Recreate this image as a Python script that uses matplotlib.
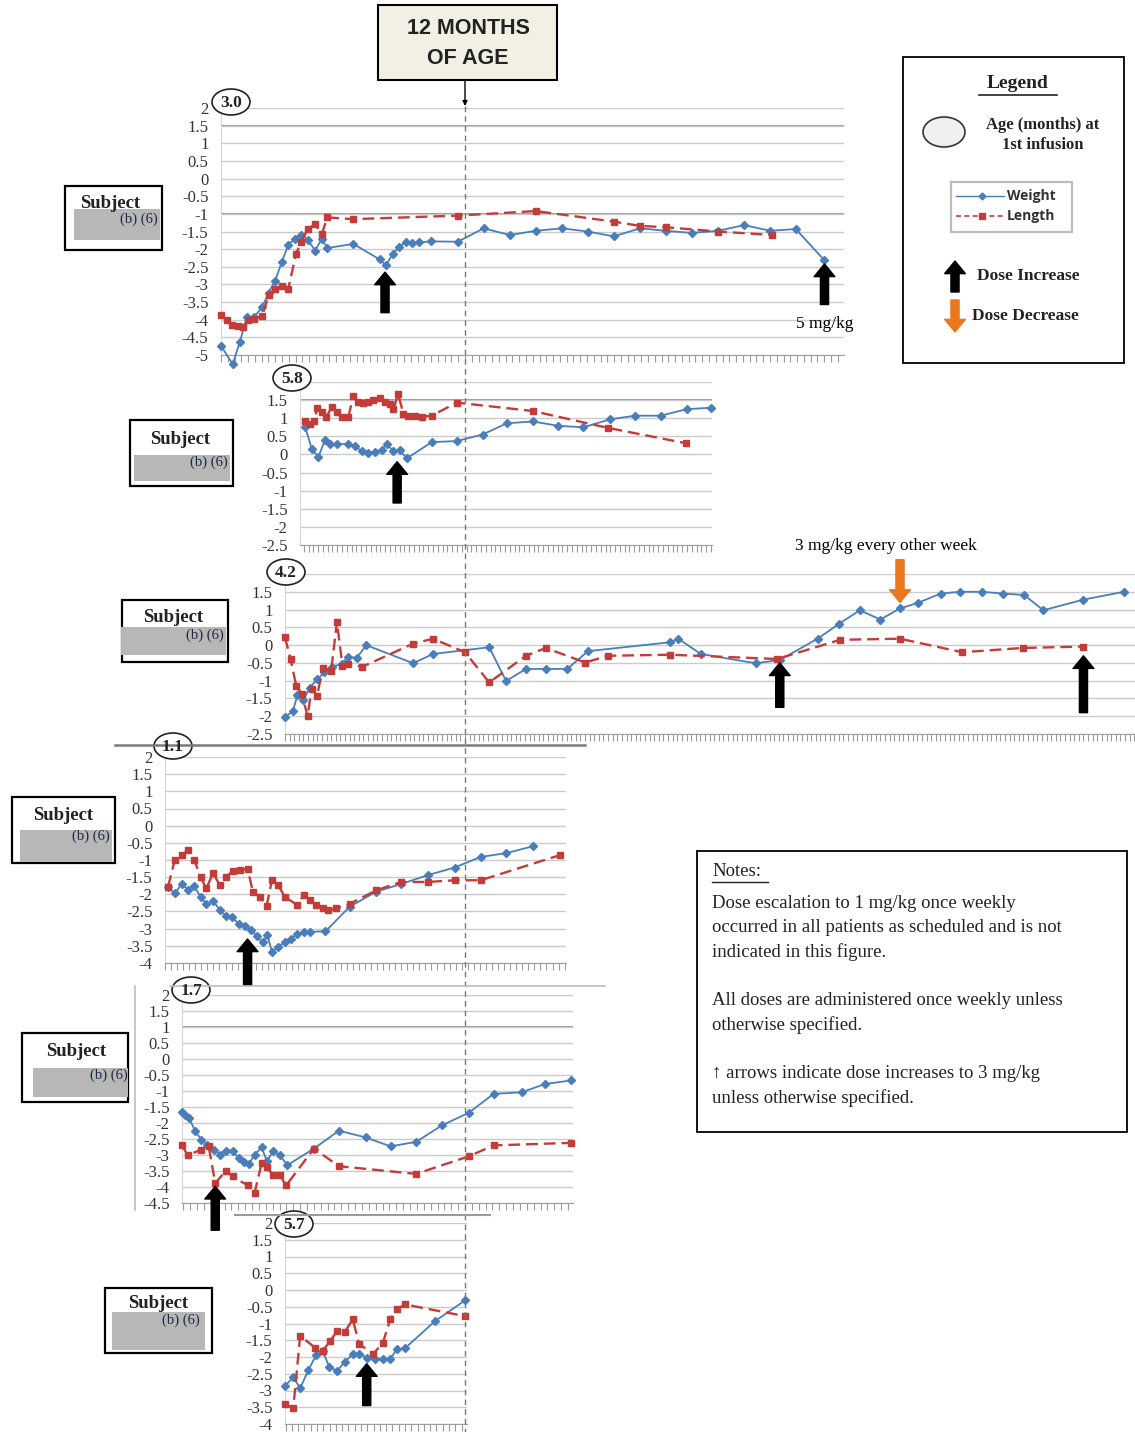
import matplotlib
matplotlib.use('Agg')
import matplotlib.pyplot as plt
from matplotlib.patches import Rectangle, Ellipse
from matplotlib.ticker import MultipleLocator, NullLocator, NullFormatter, FuncFormatter
import numpy as np

# Z-scores. x = age in months, y = z-score.
# Subject first infused at 3.0 months.
s30_weight_age = [3.0, 3.43, 3.69, 3.96, 4.23, 4.52, 4.76, 5.0, 5.24, 5.48, 5.72, 5.96, 6.2, 6.47, 6.72, 6.92, 7.88, 8.85, 9.09, 9.33,
                  9.57, 9.81, 10.05, 10.29, 10.73, 11.73, 12.69, 13.65, 14.61, 15.57, 16.53, 17.49, 18.45, 19.41, 20.37, 21.33, 22.3, 23.26, 24.2, 25.26]
s30_weight_z = [-4.74, -5.26, -4.64, -3.92, -3.92, -3.64, -3.23, -2.89, -2.37, -1.88, -1.71, -1.59, -1.73, -2.04, -1.71, -1.97, -1.85, -2.29, -2.46, -2.13,
                -1.95, -1.79, -1.82, -1.81, -1.78, -1.79, -1.41, -1.6, -1.48, -1.41, -1.5, -1.64, -1.41, -1.48, -1.54, -1.48, -1.32, -1.48, -1.43, -2.32]
s30_length_age = [3.0, 3.21, 3.4, 3.61, 3.8, 4.01, 4.23, 4.52, 4.76, 5.0, 5.24, 5.48, 5.77, 5.96, 6.2, 6.47, 6.72, 6.92, 7.88, 11.73,
                  14.61, 17.49, 18.45, 19.41, 21.33, 23.34]
s30_length_z = [-3.87, -4.01, -4.14, -4.17, -4.2, -4.01, -3.97, -3.89, -3.31, -3.12, -3.05, -3.12, -2.13, -1.79, -1.43, -1.29, -1.57, -1.1, -1.15, -1.05,
                -0.92, -1.22, -1.34, -1.38, -1.5, -1.6]

# Subject first infused at 5.8 months.
s58_weight_age = [5.99, 6.24, 6.49, 6.74, 6.93, 7.18, 7.62, 7.87, 8.12, 8.37, 8.62, 8.87, 9.06, 9.31, 9.56, 9.81, 10.75, 11.69, 12.66, 13.57,
                  14.54, 15.51, 16.45, 17.45, 18.39, 19.35, 20.33, 21.24]
s58_weight_z = [0.77, 0.16, -0.07, 0.4, 0.29, 0.29, 0.29, 0.22, 0.09, 0.04, 0.07, 0.13, 0.28, 0.09, 0.11, -0.11, 0.34, 0.37, 0.55, 0.86,
                0.91, 0.79, 0.75, 0.97, 1.07, 1.07, 1.25, 1.29]
s58_length_age = [5.99, 6.18, 6.33, 6.45, 6.61, 6.78, 6.99, 7.18, 7.37, 7.62, 7.8, 7.99, 8.18, 8.37, 8.56, 8.81, 9.0, 9.18, 9.31, 9.49,
                  9.68, 9.87, 10.12, 10.37, 10.75, 11.69, 14.54, 17.39, 20.3]
s58_length_z = [0.91, 0.84, 0.91, 1.29, 1.16, 1.02, 1.31, 1.16, 1.02, 1.04, 1.61, 1.46, 1.43, 1.46, 1.49, 1.56, 1.46, 1.4, 1.25, 1.67,
                1.13, 1.07, 1.07, 1.04, 1.07, 1.43, 1.2, 0.73, 0.31]

# Subject first infused at 4.2 months.
s42_weight_age = [4.2, 4.54, 4.74, 4.98, 5.28, 5.59, 5.91, 6.25, 6.65, 6.94, 7.31, 7.72, 9.75, 10.61, 13.05, 13.78, 14.64, 15.5, 16.43, 17.33,
                  20.88, 21.24, 22.22, 24.59, 25.64, 27.28, 28.21, 29.11, 30.0, 30.85, 31.63, 32.61, 33.47, 34.4, 35.3, 36.23, 37.06, 38.8, 40.56]
s42_weight_z = [-2.02, -1.86, -1.4, -1.55, -1.2, -0.96, -0.77, -0.61, -0.53, -0.33, -0.36, 0.0, -0.51, -0.25, -0.06, -1.01, -0.67, -0.67, -0.67, -0.17,
                0.08, 0.18, -0.25, -0.51, -0.42, 0.18, 0.6, 0.98, 0.72, 1.03, 1.19, 1.45, 1.5, 1.5, 1.45, 1.41, 0.98, 1.28, 1.5]
s42_length_age = [4.2, 4.44, 4.69, 4.93, 5.18, 5.35, 5.59, 5.84, 6.2, 6.45, 6.69, 6.94, 7.55, 9.75, 10.61, 12.0, 13.05, 14.64, 15.5, 17.21,
                  18.19, 20.88, 25.52, 28.26, 30.85, 33.54, 36.16, 38.8]
s42_length_z = [0.22, -0.39, -1.15, -1.38, -2.0, -1.24, -1.43, -0.63, -0.72, 0.65, -0.58, -0.53, -0.61, 0.04, 0.18, -0.2, -1.05, -0.3, -0.08, -0.49,
                -0.3, -0.27, -0.39, 0.15, 0.18, -0.2, -0.08, -0.04]

# Subject first infused at 1.1 months.
s11_weight_age = [1.21, 1.46, 1.7, 1.93, 2.16, 2.39, 2.6, 2.85, 3.09, 3.32, 3.54, 3.78, 4.02, 4.24, 4.43, 4.65, 4.82, 4.99, 5.21, 5.45,
                  5.68, 5.9, 6.14, 6.38, 6.93, 7.81, 8.78, 9.68, 10.65, 11.62, 12.57, 13.5, 14.47]
s11_weight_z = [-1.8, -1.97, -1.7, -1.86, -1.76, -2.07, -2.28, -2.19, -2.46, -2.63, -2.67, -2.86, -2.92, -3.03, -3.21, -3.4, -3.18, -3.69, -3.52, -3.4,
                -3.3, -3.15, -3.11, -3.09, -3.08, -2.36, -1.92, -1.7, -1.44, -1.22, -0.91, -0.8, -0.6]
s11_length_age = [1.21, 1.46, 1.7, 1.93, 2.16, 2.39, 2.6, 2.85, 3.09, 3.32, 3.57, 3.82, 4.1, 4.29, 4.54, 4.79, 4.99, 5.21, 5.45, 5.9,
                  6.14, 6.38, 6.6, 6.83, 7.04, 7.32, 7.81, 8.78, 9.68, 10.65, 11.62, 12.57, 15.44]
s11_length_z = [-1.78, -0.99, -0.86, -0.72, -0.99, -1.49, -1.83, -1.38, -1.73, -1.49, -1.32, -1.3, -1.25, -1.92, -2.07, -2.34, -1.57, -1.73, -2.07, -2.31,
                -2.02, -2.17, -2.31, -2.41, -2.47, -2.41, -2.28, -1.88, -1.64, -1.64, -1.59, -1.59, -0.86]

# Subject first infused at 1.7 months.
s17_weight_age = [1.7, 1.81, 1.95, 2.19, 2.4, 2.6, 2.88, 3.09, 3.3, 3.54, 3.76, 3.95, 4.14, 4.34, 4.6, 4.79, 5.01, 5.25, 5.53, 6.5,
                  7.41, 8.38, 9.29, 10.22, 11.17, 12.14, 13.04, 14.06, 14.92, 15.87]
s17_weight_z = [-1.65, -1.76, -1.84, -2.26, -2.52, -2.68, -2.83, -2.99, -2.86, -2.86, -3.09, -3.22, -3.28, -2.99, -2.76, -3.2, -2.89, -2.99, -3.32, -2.8,
                -2.24, -2.45, -2.73, -2.59, -2.07, -1.68, -1.09, -1.04, -0.78, -0.67]
s17_length_age = [1.7, 1.91, 2.4, 2.67, 2.91, 3.3, 3.54, 4.09, 4.34, 4.6, 4.79, 5.01, 5.25, 5.49, 6.5, 7.41, 10.22, 12.14, 13.04, 15.87]
s17_length_z = [-2.7, -3.01, -2.83, -2.73, -3.88, -3.49, -3.67, -3.95, -4.19, -3.25, -3.39, -3.62, -3.62, -3.95, -2.8, -3.35, -3.59, -3.04, -2.7, -2.62]

# Subject first infused at 5.7 months.
s57_weight_age = [5.7, 5.99, 6.23, 6.52, 6.79, 7.02, 7.25, 7.53, 7.8, 8.07, 8.3, 8.56, 8.85, 9.12, 9.38, 9.61, 9.9, 10.95, 12.0]
s57_weight_z = [-2.86, -2.61, -2.93, -2.39, -1.94, -1.82, -2.3, -2.41, -2.14, -1.92, -1.9, -2.02, -2.07, -2.07, -2.07, -1.77, -1.74, -0.93, -0.31]
s57_length_age = [5.7, 5.99, 6.23, 6.75, 7.02, 7.28, 7.53, 7.8, 8.07, 8.3, 8.79, 9.12, 9.38, 9.61, 9.9, 12.0]
s57_length_z = [-3.41, -3.53, -1.37, -1.72, -1.82, -1.52, -1.22, -1.24, -0.88, -1.62, -1.9, -1.59, -0.88, -0.58, -0.43, -0.78]

# Dose changes: (age in months, arrow tail z, arrow tip z).
s30_dose_up = [(9.05, -3.8, -2.65), (25.26, -3.57, -2.42)]
s58_dose_up = [(9.45, -1.34, -0.2)]
s42_dose_up = [(25.64, -1.75, -0.5), (38.8, -1.9, -0.3)]
s42_dose_down = [(30.85, 2.4, 1.2)]
s11_dose_up = [(4.1, -4.65, -3.3)]
s17_dose_up = [(2.91, -5.35, -3.98)]
s57_dose_up = [(8.56, -3.45, -2.2)]

first_infusion_age = ['3.0', '5.8', '4.2', '1.1', '1.7', '5.7']

notes_lines = ['Dose escalation to 1 mg/kg once weekly',
               'occurred in all patients as scheduled and is not',
               'indicated in this figure.',
               '',
               'All doses are administered once weekly unless',
               'otherwise specified.',
               '',
               '\u2191 arrows indicate dose increases to 3 mg/kg',
               'unless otherwise specified.']

# Colours and page layout (pixels of the 1135 x 1432 page).
BLUE = '#4a7ebb'
RED = '#c43c39'
ORANGE = '#e8771e'
W, H = 1135, 1432
MONTH12_PX = 465

plt.rcParams['font.family'] = ['Liberation Serif', 'DejaVu Serif']
plt.rcParams['axes.unicode_minus'] = False

fig = plt.figure(figsize=(W / 100, H / 100), dpi=100)
fig.patch.set_facecolor('white')


def px_rect(left, top, right, bottom):
    # Convert a pixel box on the page to a figure fraction rect.
    return [left / W, 1 - bottom / H, (right - left) / W, (bottom - top) / H]


def dose_arrow(ax, x, tail, tip, colour):
    ax.annotate('', xy=(x, tip), xytext=(x, tail), annotation_clip=False,
                arrowprops=dict(arrowstyle='simple,head_length=0.7,head_width=1.15,tail_width=0.45',
                                fc=colour, ec=colour, mutation_scale=13, shrinkA=0, shrinkB=0))


def draw_panel(box, age0, ymin, ymax, wt_age, wt_z, ln_age, ln_z, tick_step, dark_grid=(), hide_top=False):
    left, top, right, bottom = box
    ax = fig.add_axes(px_rect(left, top, right, bottom))
    scale = (MONTH12_PX - left) / (12.0 - age0) # Pixels per month, so 12 months lands on the shared line.
    ax.set_xlim(age0, age0 + (right - left) / scale)
    ax.set_ylim(ymin, ymax)
    ax.set_yticks(np.arange(ymin, ymax + 0.01, 0.5))
    # The top label sits under the age oval on some panels.
    ax.yaxis.set_major_formatter(FuncFormatter(lambda v, p: '' if (hide_top and v >= ymax) else '%g' % v))
    ax.tick_params(axis='y', length=0, pad=9, labelsize=12, labelcolor='#333333')
    ax.grid(axis='y', color='#cbcbcb', lw=1.0, zorder=0)
    for g in dark_grid:
        ax.axhline(g, color='#8d8d8d', lw=1.3, zorder=1)
    ax.xaxis.set_major_locator(NullLocator())
    ax.xaxis.set_minor_locator(MultipleLocator(tick_step))
    ax.xaxis.set_minor_formatter(NullFormatter())
    ax.tick_params(axis='x', which='minor', length=5, width=0.8, color='#9a9a9a', direction='out')
    for s in ['top', 'right']:
        ax.spines[s].set_visible(False)
    ax.spines['left'].set_color('#d6d6d6')
    ax.spines['bottom'].set_color('#a0a0a0')
    ax.plot(wt_age, wt_z, color=BLUE, lw=1.3, marker='D', ms=4.2, clip_on=False, zorder=3)
    ax.plot(ln_age, ln_z, color=RED, lw=1.7, ls=(0, (5, 2.5)), marker='s', ms=4.3, clip_on=False, zorder=3)
    return ax


ax1 = draw_panel((221, 108, 844, 355), 3.0, -5, 2, s30_weight_age, s30_weight_z, s30_length_age, s30_length_z, 0.25, dark_grid=(1.5, -1))
ax2 = draw_panel((300, 382, 712, 545), 5.8, -2.5, 2, s58_weight_age, s58_weight_z, s58_length_age, s58_length_z, 0.18, dark_grid=(1.5,), hide_top=True)
ax3 = draw_panel((285, 574, 1135, 734), 4.2, -2.5, 2, s42_weight_age, s42_weight_z, s42_length_age, s42_length_z, 0.2, hide_top=True)
ax4 = draw_panel((165, 757, 566, 963), 1.1, -4, 2, s11_weight_age, s11_weight_z, s11_length_age, s11_length_z, 0.22)
ax5 = draw_panel((182, 995, 573, 1203), 1.7, -4.5, 2, s17_weight_age, s17_weight_z, s17_length_age, s17_length_z, 0.25, dark_grid=(1,))
ax6 = draw_panel((285, 1223, 467, 1424), 5.7, -4, 2, s57_weight_age, s57_weight_z, s57_length_age, s57_length_z, 0.22)

for ax, ups in [(ax1, s30_dose_up), (ax2, s58_dose_up), (ax3, s42_dose_up), (ax4, s11_dose_up), (ax5, s17_dose_up), (ax6, s57_dose_up)]:
    for x, tail, tip in ups:
        dose_arrow(ax, x, tail, tip, 'black')
for x, tail, tip in s42_dose_down:
    dose_arrow(ax3, x, tail, tip, ORANGE)

ax1.text(s30_dose_up[1][0], -4.12, '5 mg/kg', ha='center', va='center', fontsize=12.5, clip_on=False)
ax3.text(s42_dose_down[0][0] - 0.6, 2.78, '3 mg/kg every other week', ha='center', va='center', fontsize=12.5, clip_on=False)

# Overlay in page pixels for boxes, labels and connecting lines.
ov = fig.add_axes([0, 0, 1, 1], zorder=10)
ov.set_xlim(0, W)
ov.set_ylim(H, 0)
ov.axis('off')
ov.patch.set_alpha(0)

# 12 months of age marker.
ov.add_patch(Rectangle((378, 5), 179, 75, fc='#f2f0e4', ec='black', lw=1.5))
ov.text(468, 29, '12 MONTHS', ha='center', va='center', fontsize=15.5, fontweight='bold', family='Liberation Sans', color='#222222')
ov.text(468, 59, 'OF AGE', ha='center', va='center', fontsize=15.5, fontweight='bold', family='Liberation Sans', color='#222222')
ov.annotate('', xy=(MONTH12_PX, 106), xytext=(MONTH12_PX, 80),
            arrowprops=dict(arrowstyle='-|>', color='black', lw=1, mutation_scale=7, shrinkA=0, shrinkB=0))
ov.plot([MONTH12_PX, MONTH12_PX], [106, H], color='#7c7c5c', lw=1.0, ls=(0, (4, 3)))

# Leftover borders of the pasted chart images.
ov.plot([115, 585], [745, 745], color='#7a7a7a', lw=1.8)
ov.plot([170, 605], [986, 986], color='#bdbdbd', lw=1.2)
ov.plot([135, 135], [986, 1210], color='#bdbdbd', lw=1.2)
ov.plot([235, 490], [1215, 1215], color='#9a9a9a', lw=1.5)

# Age at first infusion ovals.
circle_pos = [(231, 102), (292, 378), (286, 572), (173, 746), (191, 990), (294, 1224)]
for (cx, cy), label in zip(circle_pos, first_infusion_age):
    ov.add_patch(Ellipse((cx, cy), 38, 26, fc='white', ec='#222222', lw=1.2))
    ov.text(cx, cy + 1, label, ha='center', va='center', fontsize=12.5, fontweight='bold', color='#222222')

# Redacted subject boxes: outer box, grey block, "Subject" position, "(b) (6)" position.
subject_boxes = [((65, 186, 162, 250), (74, 209, 160, 240), (110, 203), (158, 219)),
                 ((130, 420, 233, 486), (134, 455, 230, 481), (180, 440), (228, 462)),
                 ((122, 600, 228, 662), (121, 627, 226, 655), (173, 618), (224, 635)),
                 ((12, 797, 115, 863), (20, 830, 112, 862), (63, 815), (110, 836)),
                 ((22, 1033, 128, 1102), (33, 1068, 128, 1097), (76, 1052), (128, 1075)),
                 ((105, 1288, 212, 1353), (112, 1312, 205, 1350), (158, 1304), (200, 1320))]
for (x0, y0, x1, y1), (gx0, gy0, gx1, gy1), (tx, ty), (bx, by) in subject_boxes:
    ov.add_patch(Rectangle((x0, y0), x1 - x0, y1 - y0, fc='white', ec='black', lw=1.6))
    ov.text(tx, ty, 'Subject', ha='center', va='center', fontsize=13.5, fontweight='bold', color='#222222')
    ov.add_patch(Rectangle((gx0, gy0), gx1 - gx0, gy1 - gy0, fc='#b7b7b7', ec='none'))
    ov.text(bx, by, '(b) (6)', ha='right', va='center', fontsize=10.5, color='#1c2740')

# Legend box.
ov.add_patch(Rectangle((903, 57), 221, 306, fc='white', ec='black', lw=1.3))
ov.text(1018, 83, 'Legend', ha='center', va='center', fontsize=14, fontweight='bold', color='#222222')
ov.plot([979, 1057], [95, 95], color='#222222', lw=1.2)
ov.add_patch(Ellipse((944, 132), 42, 30, fc='#f0f0f0', ec='#333333', lw=1.2))
ov.text(1043, 125, 'Age (months) at', ha='center', va='center', fontsize=12, fontweight='bold', color='#222222')
ov.text(1043, 145, '1st infusion', ha='center', va='center', fontsize=12, fontweight='bold', color='#222222')
ov.add_patch(Rectangle((951, 182), 121, 50, fc='white', ec='#bdbdbd', lw=1.6))
ov.plot([956, 1004], [196, 196], color=BLUE, lw=1.0)
ov.plot([982], [196], color=BLUE, marker='D', ms=3.5)
ov.plot([956, 1004], [216, 216], color=RED, lw=1.2, ls=(0, (3, 2)))
ov.plot([982], [216], color=RED, marker='s', ms=3.8)
ov.text(1007, 196, 'Weight', ha='left', va='center', fontsize=10, fontweight='bold', family='Open Sans', color='#333333')
ov.text(1007, 216, 'Length', ha='left', va='center', fontsize=10, fontweight='bold', family='Open Sans', color='#333333')
ov.annotate('', xy=(955, 261), xytext=(955, 292),
            arrowprops=dict(arrowstyle='simple,head_length=0.7,head_width=1.15,tail_width=0.45', fc='black', ec='black', mutation_scale=13, shrinkA=0, shrinkB=0))
ov.annotate('', xy=(955, 332), xytext=(955, 300),
            arrowprops=dict(arrowstyle='simple,head_length=0.7,head_width=1.15,tail_width=0.45', fc=ORANGE, ec=ORANGE, mutation_scale=13, shrinkA=0, shrinkB=0))
ov.text(977, 276, 'Dose Increase', ha='left', va='center', fontsize=12.5, fontweight='bold', color='#222222')
ov.text(972, 316, 'Dose Decrease', ha='left', va='center', fontsize=12.5, fontweight='bold', color='#222222')

# Notes box.
ov.add_patch(Rectangle((697, 851), 430, 281, fc='white', ec='black', lw=1.3))
ov.text(712, 871, 'Notes:', ha='left', va='center', fontsize=13.5, color='#222222')
ov.plot([712, 768], [882, 882], color='#222222', lw=1)
for i, line in enumerate(notes_lines):
    ov.text(712, 903 + i * 24.4, line, ha='left', va='center', fontsize=13.5, color='#222222')

fig.savefig('out.png', dpi=100, facecolor='white')
